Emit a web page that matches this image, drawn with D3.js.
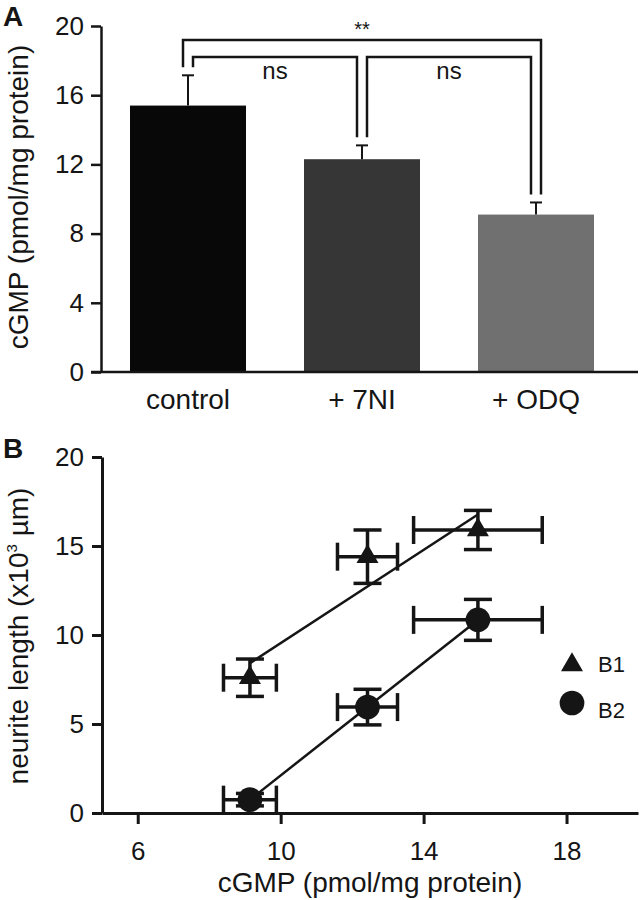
<!DOCTYPE html>
<html>
<head>
<meta charset="utf-8">
<script src="https://cdn.jsdelivr.net/npm/d3@7"></script>
<style>
  html, body { margin: 0; padding: 0; background: #fff; }
  svg { display: block; font-family: "Liberation Sans", Arial, sans-serif; }
</style>
</head>
<body>
<svg id="chart" width="640" height="900"></svg>
<script>
// ---------- Panel A data ----------
const categories = ["control", "+ 7NI", "+ ODQ"];
const cgmpMean = [15.4, 12.3, 9.1];
const cgmpSem = [1.75, 0.8, 0.7];
const yTicksA = [0, 4, 8, 12, 16, 20];
const compFrom = [0, 1, 0];
const compTo = [1, 2, 2];
const compLabel = ["ns", "ns", "**"];

// ---------- Panel B data ----------
const seriesNames = ["B1", "B2"];
const cgmpB = [9.14, 12.43, 15.52];
const cgmpBErr = [0.74, 0.84, 1.8];
const b1Length = [7.6, 14.4, 15.9];
const b1Err = [1.05, 1.5, 1.1];
const b2Length = [0.75, 5.95, 10.85];
const b2Err = [0.35, 1.0, 1.15];
const xTicksB = [6, 10, 14, 18];
const yTicksB = [0, 5, 10, 15, 20];

const svg = d3.select("#chart");
const ink = "#151515";
const fontTick = 26;

// ================= Panel A =================
const xA = d3.scaleBand().domain(categories).range([101, 623])
  .paddingInner(1 / 3).paddingOuter(1 / 6);
const yA = d3.scaleLinear().domain([0, 20]).range([372, 26]);
const barColor = d3.scaleOrdinal().domain(categories).range(["#080808", "#363636", "#707070"]);

const gA = svg.append("g");
gA.append("text").attr("x", 3).attr("y", 26).attr("font-size", 28)
  .attr("font-weight", "bold").attr("fill", ink).text("A");

// bars
gA.selectAll("rect.bar").data(categories).join("rect")
  .attr("class", "bar")
  .attr("x", d => xA(d))
  .attr("width", xA.bandwidth())
  .attr("y", (d, i) => yA(cgmpMean[i]))
  .attr("height", (d, i) => yA(0) - yA(cgmpMean[i]))
  .attr("fill", d => barColor(d));

// error bars (upward only)
categories.forEach((c, i) => {
  const cx = xA(c) + xA.bandwidth() / 2;
  gA.append("line").attr("x1", cx).attr("x2", cx)
    .attr("y1", yA(cgmpMean[i])).attr("y2", yA(cgmpMean[i] + cgmpSem[i]))
    .attr("stroke", ink).attr("stroke-width", 2);
  gA.append("line").attr("x1", cx - 6).attr("x2", cx + 6)
    .attr("y1", yA(cgmpMean[i] + cgmpSem[i])).attr("y2", yA(cgmpMean[i] + cgmpSem[i]))
    .attr("stroke", ink).attr("stroke-width", 2);
});

// significance brackets
const levelPx = [57, 57, 40];
const offsetFrom = [5, 5, -5];
const offsetTo = [-5, -5, 5];
compFrom.forEach((f, k) => {
  const t = compTo[k];
  const x1 = xA(categories[f]) + xA.bandwidth() / 2 + offsetFrom[k];
  const x2 = xA(categories[t]) + xA.bandwidth() / 2 + offsetTo[k];
  const yTop = levelPx[k];
  const y1 = yA(cgmpMean[f] + cgmpSem[f]) - 8;
  const y2 = yA(cgmpMean[t] + cgmpSem[t]) - 8;
  gA.append("path")
    .attr("d", `M${x1},${y1}V${yTop}H${x2}V${y2}`)
    .attr("fill", "none").attr("stroke", ink).attr("stroke-width", 2.5);
  const isStar = compLabel[k] === "**";
  gA.append("text")
    .attr("x", (x1 + x2) / 2)
    .attr("y", isStar ? 36 : 79)
    .attr("text-anchor", "middle")
    .attr("font-size", isStar ? 20 : 24)
    .attr("fill", ink)
    .text(compLabel[k]);
});

// y axis A
const axA = gA.append("g").attr("transform", "translate(101,0)")
  .call(d3.axisLeft(yA).tickValues(yTicksA).tickSize(10).tickPadding(7).tickSizeOuter(0));
axA.select(".domain").attr("stroke", ink).attr("stroke-width", 2.5);
axA.selectAll(".tick line").attr("stroke", ink).attr("stroke-width", 2.5);
axA.selectAll(".tick text").attr("font-size", fontTick).attr("fill", ink)
  .attr("font-family", "Liberation Sans, Arial, sans-serif");

// x axis A baseline
gA.append("line").attr("x1", 91).attr("x2", 638).attr("y1", yA(0)).attr("y2", yA(0))
  .attr("stroke", ink).attr("stroke-width", 2.5);
const axAx = gA.append("g").attr("transform", `translate(0,${yA(0)})`)
  .call(d3.axisBottom(xA).tickSize(0).tickPadding(10));
axAx.select(".domain").remove();
axAx.selectAll(".tick text").attr("font-size", 28).attr("fill", ink)
  .attr("font-family", "Liberation Sans, Arial, sans-serif")
  .attr("dy", null).attr("y", 37);

gA.append("text")
  .attr("transform", "translate(28,197) rotate(-90)")
  .attr("text-anchor", "middle").attr("font-size", 28).attr("fill", ink)
  .text("cGMP (pmol/mg protein)");

// ================= Panel B =================
const xB = d3.scaleLinear().domain([5, 20]).range([102, 638]);
const yB = d3.scaleLinear().domain([0, 20]).range([813, 457]);
const gB = svg.append("g");

gB.append("text").attr("x", 3).attr("y", 458).attr("font-size", 28)
  .attr("font-weight", "bold").attr("fill", ink).text("B");

// regression lines
function fit(xs, ys) {
  const mx = d3.mean(xs), my = d3.mean(ys);
  const sxy = d3.sum(xs, (x, i) => (x - mx) * (ys[i] - my));
  const sxx = d3.sum(xs, x => (x - mx) * (x - mx));
  const b = sxy / sxx;
  return x => my + b * (x - mx);
}
const seriesY = [b1Length, b2Length];
const seriesErr = [b1Err, b2Err];
const symbols = [d3.symbolTriangle, d3.symbolCircle];
const symSize = [210, 480];

seriesY.forEach((ys, s) => {
  const f = fit(cgmpB, ys);
  const x0 = d3.min(cgmpB), x1 = d3.max(cgmpB);
  gB.append("line")
    .attr("x1", xB(x0)).attr("y1", yB(f(x0)))
    .attr("x2", xB(x1)).attr("y2", yB(f(x1)))
    .attr("stroke", ink).attr("stroke-width", 2.5);
});

seriesY.forEach((ys, s) => {
  cgmpB.forEach((xv, i) => {
    const cx = xB(xv), cy = yB(ys[i]);
    const yLo = yB(ys[i] - seriesErr[s][i]), yHi = yB(ys[i] + seriesErr[s][i]);
    const xLo = xB(xv - cgmpBErr[i]), xHi = xB(xv + cgmpBErr[i]);
    const g = gB.append("g").attr("stroke", ink).attr("stroke-width", 3.5);
    g.append("line").attr("x1", cx).attr("x2", cx).attr("y1", yLo).attr("y2", yHi);
    g.append("line").attr("x1", cx - 14).attr("x2", cx + 14).attr("y1", yLo).attr("y2", yLo);
    g.append("line").attr("x1", cx - 14).attr("x2", cx + 14).attr("y1", yHi).attr("y2", yHi);
    g.append("line").attr("x1", xLo).attr("x2", xHi).attr("y1", cy).attr("y2", cy);
    g.append("line").attr("x1", xLo).attr("x2", xLo).attr("y1", cy - 14).attr("y2", cy + 14);
    g.append("line").attr("x1", xHi).attr("x2", xHi).attr("y1", cy - 14).attr("y2", cy + 14);
    gB.append("path")
      .attr("d", d3.symbol().type(symbols[s]).size(symSize[s])())
      .attr("transform", `translate(${cx},${cy})`)
      .attr("fill", ink);
  });
});

// axes B
const axBy = gB.append("g").attr("transform", "translate(102,0)")
  .call(d3.axisLeft(yB).tickValues(yTicksB).tickSize(10).tickPadding(8).tickSizeOuter(0));
axBy.select(".domain").attr("stroke", ink).attr("stroke-width", 3);
axBy.selectAll(".tick line").attr("stroke", ink).attr("stroke-width", 3);
axBy.selectAll(".tick text").attr("font-size", fontTick).attr("fill", ink)
  .attr("font-family", "Liberation Sans, Arial, sans-serif");

const axBx = gB.append("g").attr("transform", "translate(0,813)")
  .call(d3.axisBottom(xB).tickValues(xTicksB).tickSize(11).tickPadding(10).tickSizeOuter(0));
axBx.select(".domain").attr("stroke", ink).attr("stroke-width", 3);
axBx.selectAll(".tick line").attr("stroke", ink).attr("stroke-width", 3);
axBx.selectAll(".tick text").attr("font-size", fontTick).attr("fill", ink)
  .attr("font-family", "Liberation Sans, Arial, sans-serif")
  .attr("dy", null).attr("y", 47);

gB.append("text")
  .attr("x", (xB(5) + xB(20)) / 2).attr("y", 892)
  .attr("text-anchor", "middle").attr("font-size", 28).attr("fill", ink)
  .text("cGMP (pmol/mg protein)");

const yTitle = gB.append("text")
  .attr("transform", "translate(28,636) rotate(-90)")
  .attr("text-anchor", "middle").attr("font-size", 28).attr("fill", ink);
yTitle.append("tspan").text("neurite length (x10");
yTitle.append("tspan").attr("font-size", 15).attr("dy", -11).text("3");
yTitle.append("tspan").attr("dy", 11).text(" µm)");

// legend
const legend = gB.append("g");
seriesNames.forEach((name, s) => {
  const ly = [665, 703][s];
  legend.append("path")
    .attr("d", d3.symbol().type(symbols[s]).size(symSize[s])())
    .attr("transform", `translate(572,${ly})`)
    .attr("fill", ink);
  legend.append("text").attr("x", 598).attr("y", [672, 718][s])
    .attr("font-size", 22).attr("fill", ink).text(name);
});
</script>
</body>
</html>
